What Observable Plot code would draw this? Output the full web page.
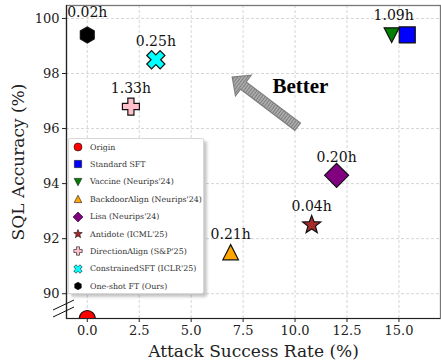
<!DOCTYPE html>
<html><head><meta charset="utf-8">
<script src="https://cdn.jsdelivr.net/npm/d3@7"></script>
<script src="https://cdn.jsdelivr.net/npm/@observablehq/plot@0.6"></script>
<style>
body{margin:0;background:#fff;font-family:"DejaVu Serif",serif;}
#wrap{position:relative;width:441px;height:362px;overflow:hidden;}
#legend{position:absolute;left:68px;top:138px;width:136px;height:156px;background:#fff;border:1px solid #d8d8d8;border-radius:2px;box-shadow:3px 3px 3px rgba(0,0,0,0.22);font-family:"DejaVu Serif",serif;font-size:7.9px;color:#333;box-sizing:border-box;}
.row{position:absolute;left:1px;height:14px;display:flex;align-items:center;white-space:nowrap;}
.row svg{width:14px;height:14px;margin-left:1px;margin-right:5px;overflow:visible;}
</style></head><body><div id="wrap"></div>
<script>
// ---- data ----
const methods = ["Origin","Standard SFT","Vaccine (Neurips'24)","BackdoorAlign (Neurips'24)","Lisa (Neurips'24)","Antidote (ICML'25)","DirectionAlign (S&P'25)","ConstrainedSFT (ICLR'25)","One-shot FT (Ours)"];
const attackSuccessRate = [0.0, 15.4, 14.65, 6.9, 12.0, 10.8, 2.1, 3.3, 0.0];
const sqlAccuracy = [89.1, 99.4, 99.4, 91.5, 94.3, 92.5, 96.8, 98.5, 99.4];
const timeLabels = ["", "", "1.09h", "0.21h", "0.20h", "0.04h", "1.33h", "0.25h", "0.02h"];
const xTicks = [0, 2.5, 5, 7.5, 10, 12.5, 15];
const yTicks = [90, 92, 94, 96, 98, 100];
const xDomain = [-1, 17];
const yDomain = [89.1, 100.47];
const arrowFrom = [10.15, 96.05];
const arrowTo = [7.0, 97.85];
const betterAt = [10.26, 97.55];

// ---- styles ----
const colors = ["#ff0000","#0000ff","#008000","#ffa500","#800080","#a52a2a","#ffc0cb","#00ffff","#000000"];
function poly(pts){return {draw(ctx,size){const r=Math.sqrt(size/Math.PI);pts.forEach(([x,y],i)=>i?ctx.lineTo(x*r,y*r):ctx.moveTo(x*r,y*r));ctx.closePath();}};}
const circleSym = {draw(ctx,size){const r=Math.sqrt(size/Math.PI);ctx.moveTo(r,0);ctx.arc(0,0,r,0,2*Math.PI);}};
const squareSym = poly([[-1,-1],[1,-1],[1,1],[-1,1]]);
const triDown = poly([[-1,-0.95],[1,-0.95],[0,1]]);
const triUp = poly([[0,-1],[1,0.95],[-1,0.95]]);
const diamondSym = poly([[0,-1],[1,0],[0,1],[-1,0]]);
const starSym = poly(d3.range(10).map(i=>{const a=-Math.PI/2+i*Math.PI/5;const rr=i%2?0.42:1;return [rr*Math.cos(a),rr*Math.sin(a)];}));
const w=0.36;
const plusPts=[[-w,-1],[w,-1],[w,-w],[1,-w],[1,w],[w,w],[w,1],[-w,1],[-w,w],[-1,w],[-1,-w],[-w,-w]];
const plusSym = poly(plusPts);
const xSym = poly(plusPts.map(([x,y])=>[(x-y)*0.7071*1.05,(x+y)*0.7071*1.05]));
const hexSym = poly(d3.range(6).map(i=>{const a=-Math.PI/2+i*Math.PI/3;return [Math.cos(a),Math.sin(a)];}));
const symbols = [circleSym, squareSym, triDown, triUp, diamondSym, starSym, plusSym, xSym, hexSym];
const radii = [8, 8, 7.5, 7.8, 12, 9.5, 8.5, 9, 8];
const legendRadii = [4, 3.6, 3.8, 3.8, 5, 4.5, 4.2, 4.2, 3.8];

const rows = methods.map((m,i)=>({method:m, asr:attackSuccessRate[i], acc:sqlAccuracy[i], time:timeLabels[i]}));

function arrowMark(index, scales, values, dims) {
  const x0=scales.x(arrowFrom[0]), y0=scales.y(arrowFrom[1]), x1=scales.x(arrowTo[0]), y1=scales.y(arrowTo[1]);
  const dx=x1-x0, dy=y1-y0, L=Math.hypot(dx,dy), ux=dx/L, uy=dy/L, nx=-uy, ny=ux;
  const sw=4.6, hw=13, hl=14;
  const bx=x1-ux*hl, by=y1-uy*hl;
  const P=(x,y)=>`${x.toFixed(1)},${y.toFixed(1)}`;
  const pts=[P(x0+nx*sw,y0+ny*sw),P(bx+nx*sw,by+ny*sw),P(bx+nx*hw,by+ny*hw),P(x1,y1),P(bx-nx*hw,by-ny*hw),P(bx-nx*sw,by-ny*sw),P(x0-nx*sw,y0-ny*sw)].join(" ");
  const ang = Math.atan2(dy,dx)*180/Math.PI;
  const g=d3.create("svg:g");
  const pat=g.append("defs").append("pattern").attr("id","hatch").attr("patternUnits","userSpaceOnUse").attr("width",2.6).attr("height",2.6).attr("patternTransform",`rotate(${ang})`);
  pat.append("rect").attr("width",2.6).attr("height",2.6).attr("fill","#b4b4b4");
  pat.append("line").attr("x1",0.6).attr("y1",0).attr("x2",0.6).attr("y2",2.6).attr("stroke","#7a7a7a").attr("stroke-width",1.1);
  g.append("polygon").attr("points",pts).attr("fill","url(#hatch)").attr("stroke","#808080").attr("stroke-width",1.2);
  return g.node();
}
function breakMark(index, scales, values, dims) {
  const x=dims.marginLeft, y=dims.height-dims.marginBottom;
  const g=d3.create("svg:g").attr("stroke","#111").attr("stroke-width",1);
  g.append("line").attr("x1",x-13).attr("y1",y-8).attr("x2",x+8).attr("y2",y-18);
  g.append("line").attr("x1",x-13).attr("y1",y-1).attr("x2",x+8).attr("y2",y-11);
  return g.node();
}

const plot = Plot.plot({
  width: 441, height: 362,
  marginLeft: 66, marginRight: 1, marginTop: 5, marginBottom: 44,
  x: {domain: xDomain}, y: {domain: yDomain},
  style: {fontFamily: "DejaVu Serif", fontSize: "13px", background: "#fff", color: "#222"},
  marks: [
    Plot.gridX(xTicks, {stroke: "#d6d6d6", strokeOpacity: 1, strokeDasharray: "3,2"}),
    Plot.gridY(yTicks, {stroke: "#d6d6d6", strokeOpacity: 1, strokeDasharray: "3,2"}),
    Plot.frame({stroke: "#777", strokeWidth: 1.3}),
    Plot.ruleX([xDomain[0]], {stroke: "#222", strokeWidth: 1.2}),
    Plot.ruleY([yDomain[0]], {stroke: "#222", strokeWidth: 1.2}),
    Plot.axisX(xTicks, {tickFormat: d3.format(".1f"), tickSize: 4, tickPadding: 3, fontSize: 13, label: null}),
    Plot.axisY(yTicks, {tickSize: 4, tickPadding: 3, fontSize: 13, label: null}),
    Plot.text(["Attack Success Rate (%)"], {frameAnchor: "bottom", dy: 33, lineAnchor: "middle", fontSize: 17}),
    Plot.text(["SQL Accuracy (%)"], {frameAnchor: "left", dx: -48, rotate: -90, textAnchor: "middle", lineAnchor: "middle", fontSize: 17}),
    arrowMark,
    Plot.text([betterAt], {x: d=>d[0], y: d=>d[1], text: ()=>"Better", fontFamily: "Liberation Serif", fontWeight: "bold", fontSize: 21, fill: "#000"}),
    breakMark,
    ...rows.map((r,i)=>Plot.dot([r], {x: "asr", y: "acc", symbol: symbols[i], r: radii[i], fill: colors[i], stroke: "#111", strokeWidth: 1.2, clip: true})),
    Plot.text(rows.filter(d=>d.time && d.method!=="One-shot FT (Ours)" && d.method!=="Vaccine (Neurips'24)"), {x: "asr", y: "acc", text: "time", dy: -18, fontSize: 14, fill: "#111"}),
    Plot.text(rows.filter(d=>d.method==="Vaccine (Neurips'24)"), {x: "asr", y: "acc", text: "time", dx: 2, dy: -19.5, fontSize: 14, fill: "#111"}),
    Plot.text(rows.filter(d=>d.method==="One-shot FT (Ours)"), {x: "asr", y: "acc", text: "time", dy: -22, fontSize: 14, fill: "#111"})
  ]
});
const wrap = document.getElementById("wrap");
wrap.appendChild(plot);

// legend
const legend = document.createElement("div");
legend.id = "legend";
methods.forEach((m,i)=>{
  const row = document.createElement("div");
  row.className = "row";
  row.style.top = (1 + i*17.4) + "px";
  const r = legendRadii[i];
  const path = d3.symbol(symbols[i], Math.PI*r*r)();
  row.innerHTML = `<svg viewBox="-7 -7 14 14"><path d="${path}" fill="${colors[i]}" stroke="#111" stroke-width="0.6"/></svg><span>${m.replace("&","&amp;")}</span>`;
  legend.appendChild(row);
});
wrap.appendChild(legend);
</script></body></html>
